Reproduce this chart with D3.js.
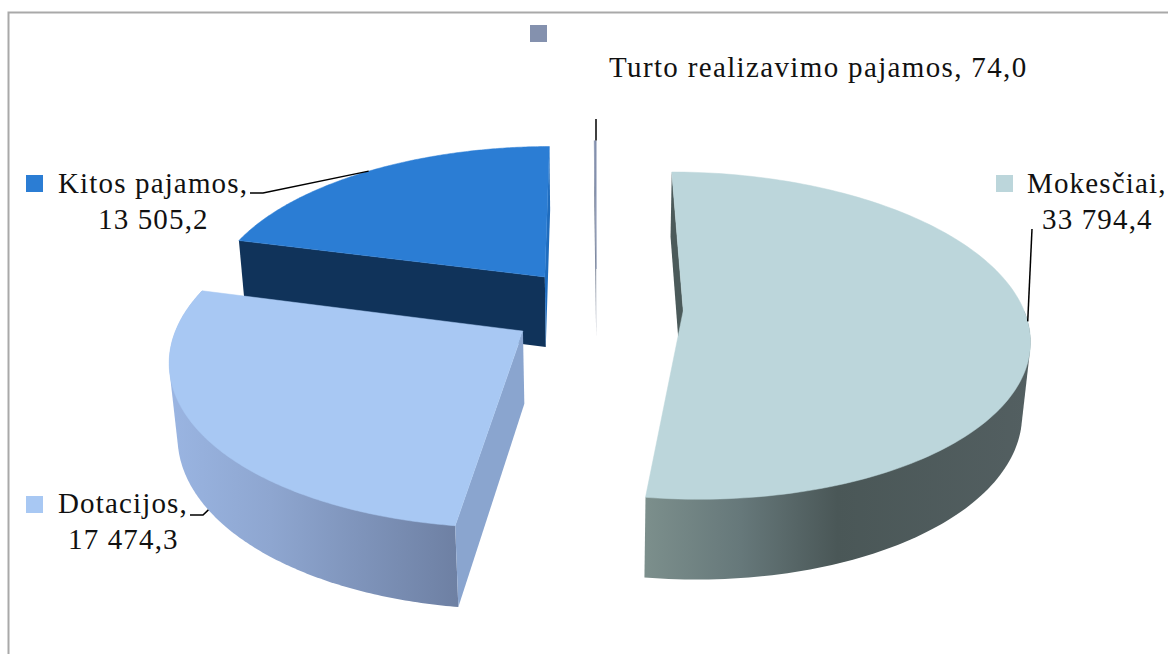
<!DOCTYPE html>
<html><head><meta charset="utf-8">
<script src="https://cdn.jsdelivr.net/npm/d3@7"></script>
<style>html,body{margin:0;padding:0;background:#fff;overflow:hidden}svg{display:block}
text{font-family:"Liberation Serif",serif;font-size:29px;fill:#111;letter-spacing:1.15px}</style>
</head><body><svg id="c" width="1168" height="654"></svg>
<script>
const categories=["Mokesčiai","Dotacijos","Kitos pajamos","Turto realizavimo pajamos"];
const values=[33794.4,17474.3,13505.2,74.0];
const valueLabels=["33 794,4","17 474,3","13 505,2","74,0"];
const topColors=["#bcd6db","#a8c8f3","#2b7dd4","#8491ae"];
const radialColors=["#4b5a5a","#8aa5cf","#10335a","#7d8798"];

// view parameters of the 3D pie (unit radius, Y toward viewer, Z downward)
const view={cx:596.5,cy:308,rx:340,k:159,p:0.152,q:0.019,h:73,explode:0.255};
function pt(slice,a,r,z){
  const mid=(slice.startAngle+slice.endAngle)/2;
  const X=r*Math.sin(a)+view.explode*Math.sin(mid);
  const T=-r*Math.cos(a)-view.explode*Math.cos(mid);
  const w=1-view.p*T+view.q*z;
  return [view.cx+view.rx*X/w, view.cy+(view.k*T+view.h*z)/w];
}
const svg=d3.select("#c");
const defs=svg.append("defs");
function grad(id,x1,x2,stops){
  const g=defs.append("linearGradient").attr("id",id).attr("gradientUnits","userSpaceOnUse")
    .attr("x1",x1).attr("x2",x2).attr("y1",0).attr("y2",0);
  stops.forEach(s=>g.append("stop").attr("offset",s[0]).attr("stop-color",s[1]));
}
grad("g0",644,1031,[[0,"#7c8f8c"],[.25,"#66787a"],[.5,"#4a5757"],[1,"#535f61"]]);
grad("g1",168,462,[[0,"#9ab5e2"],[.35,"#8ea6d0"],[1,"#6d7fa2"]]);
const sideFills=["url(#g0)","url(#g1)","#10335a","#7d8798"];

svg.append("rect").attr("x",8.5).attr("y",12.5).attr("width",1300).attr("height",800)
  .attr("fill","#fff").attr("stroke","#a9a9a9").attr("stroke-width",2);

const pie=d3.pie().sort(null).value(d=>d);
const slices=pie(values);
const line=d3.line();
const arcAngles=(s,n=160)=>d3.range(n+1).map(i=>s.startAngle+(s.endAngle-s.startAngle)*i/n);

const order=[3,2,0,1];
order.forEach(i=>{
  const s=slices[i],g=svg.append("g");
  const A=arcAngles(s);
  // outer band: convex hull of the front part of the rim, top and bottom, so the silhouette runs tangent
  if(i<2){
    const F=A.filter(a=>a>=Math.PI/2);
    const hull=d3.polygonHull([...F.map(a=>pt(s,a,1,0)),...F.map(a=>pt(s,a,1,1))]);
    g.append("path").attr("d",line(hull)+"Z").attr("fill",sideFills[i]);
  }
  const wall=(a,fill)=>g.append("path").attr("d",line([pt(s,a,1,0),pt(s,a,1,1),pt(s,a,0,1),pt(s,a,0,0)])+"Z")
    .attr("fill",fill);
  if(i===0) wall(s.startAngle,radialColors[0]);
  if(i===1) wall(s.startAngle,radialColors[1]);
  if(i===2){wall(s.startAngle,radialColors[2]);wall(s.endAngle,"#1f6cbd");}
  if(i===3) wall(s.startAngle,radialColors[3]);
  g.append("path").attr("d",line([pt(s,s.startAngle,0,0),...A.map(a=>pt(s,a,1,0))])+"Z")
    .attr("fill",topColors[i]).attr("stroke",topColors[i]).attr("stroke-width",.5);
});

// leader lines, anchored on each slice's mid angle
const mid=s=>(s.startAngle+s.endAngle)/2;
const leaders=[
  [[1032,229],pt(slices[0],mid(slices[0]),1,0)],
  [[190,515],[203,515],pt(slices[1],mid(slices[1]),1,1)],
  [[250,193],[263,193],pt(slices[2],mid(slices[2]),1,0)],
  [[596,119],[596,pt(slices[3],mid(slices[3]),1,0)[1]]]
];
leaders.forEach(l=>svg.append("path").attr("d",line(l)).attr("fill","none").attr("stroke","#000").attr("stroke-width",1.5));

// legend keys & labels
const keys=[[996,175],[26,496],[26,175],[530,25]];
keys.forEach((k,i)=>svg.append("rect").attr("x",k[0]).attr("y",k[1]).attr("width",17).attr("height",17).attr("fill",topColors[i]));
const labelLines=[
  [[1027,193,categories[0]+","],[1042,229,valueLabels[0]]],
  [[58,513,categories[1]+","],[68,549,valueLabels[1]]],
  [[58,193,categories[2]+","],[98,229,valueLabels[2]]],
  [[609,77,categories[3]+", "+valueLabels[3],1.35]]
];
labelLines.flat().forEach(t=>svg.append("text").attr("x",t[0]).attr("y",t[1]).style("letter-spacing",t[3]?t[3]+"px":null).text(t[2]));
</script></body></html>
